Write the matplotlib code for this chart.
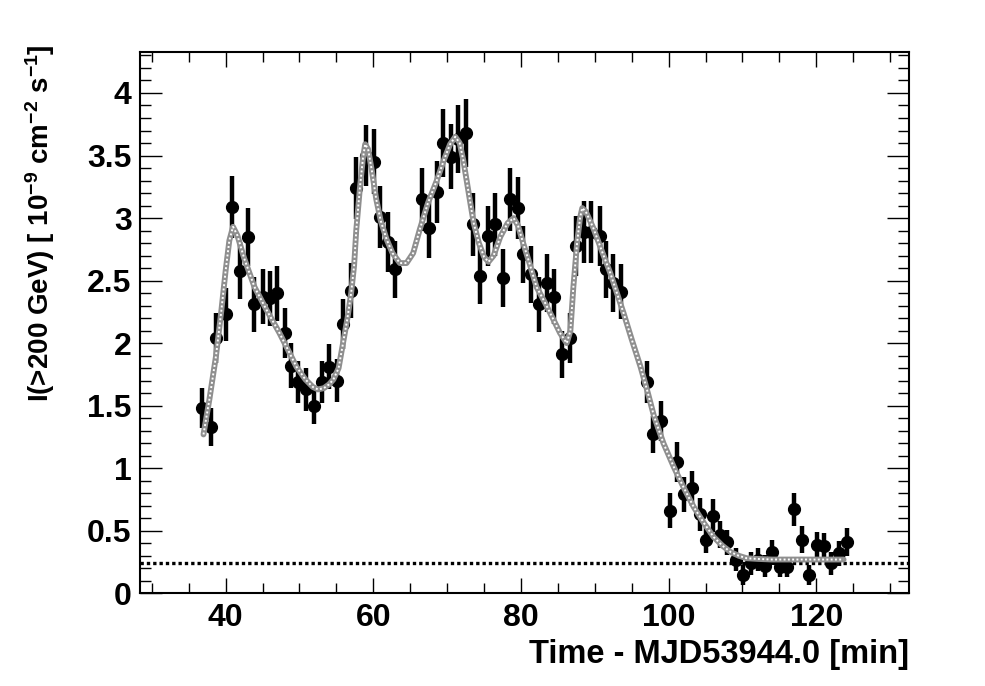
import matplotlib
matplotlib.use("Agg")
import matplotlib.pyplot as plt
from matplotlib.ticker import MultipleLocator, FixedLocator

plt.rcParams['font.family'] = ['Liberation Sans', 'DejaVu Sans']
plt.rcParams['font.weight'] = 'bold'
plt.rcParams['mathtext.fontset'] = 'custom'
plt.rcParams['mathtext.rm'] = 'Liberation Sans:bold'
plt.rcParams['mathtext.bf'] = 'Liberation Sans:bold'
plt.rcParams['mathtext.it'] = 'Liberation Sans:bold'

# ---- data ----
time_min = [36.8, 38.0, 38.7, 40.0, 40.9, 41.9, 43.0, 43.9, 45.0, 46.0,
            47.0, 48.0, 48.8, 49.8, 50.9, 52.0, 53.0, 54.0, 55.1, 55.9,
            57.0, 57.7, 59.0, 60.1, 60.9, 62.0, 62.9, 66.6, 67.6, 68.6,
            69.5, 70.5, 71.5, 72.6, 73.5, 74.5, 75.5, 76.5, 77.5, 78.5,
            79.6, 80.3, 81.4, 82.5, 83.5, 84.5, 85.5, 86.6, 87.4, 88.5,
            89.5, 90.7, 91.5, 92.5, 93.6, 97.1, 97.9, 99.0, 100.2, 101.2,
            102.1, 103.1, 104.2, 105.0, 106.0, 107.0, 107.9, 109.1, 110.1, 111.1,
            112.1, 113.1, 114.0, 115.1, 116.1, 117.0, 118.0, 119.0, 120.1, 121.0,
            122.0, 123.1, 124.1]
flux = [1.48, 1.33, 2.04, 2.23, 3.09, 2.58, 2.85, 2.31, 2.37, 2.36,
        2.40, 2.08, 1.82, 1.69, 1.63, 1.50, 1.69, 1.81, 1.70, 2.15,
        2.42, 3.24, 3.50, 3.45, 3.01, 2.81, 2.59, 3.15, 2.92, 3.21,
        3.60, 3.49, 3.63, 3.68, 2.95, 2.54, 2.86, 2.95, 2.52, 3.15,
        3.08, 2.71, 2.55, 2.31, 2.48, 2.37, 1.91, 2.04, 2.78, 2.89,
        2.89, 2.86, 2.59, 2.48, 2.41, 1.69, 1.27, 1.38, 0.66, 1.05,
        0.79, 0.84, 0.63, 0.43, 0.62, 0.47, 0.41, 0.27, 0.15, 0.24,
        0.27, 0.22, 0.33, 0.21, 0.21, 0.67, 0.43, 0.15, 0.39, 0.38,
        0.24, 0.32, 0.41]
flux_err = [0.16, 0.15, 0.20, 0.21, 0.25, 0.23, 0.23, 0.22, 0.22, 0.22,
            0.22, 0.20, 0.18, 0.17, 0.17, 0.15, 0.17, 0.18, 0.17, 0.20,
            0.22, 0.25, 0.24, 0.26, 0.25, 0.24, 0.23, 0.25, 0.24, 0.25,
            0.27, 0.26, 0.27, 0.27, 0.25, 0.23, 0.24, 0.25, 0.23, 0.25,
            0.25, 0.23, 0.23, 0.22, 0.23, 0.22, 0.19, 0.20, 0.24, 0.25,
            0.25, 0.24, 0.23, 0.23, 0.22, 0.17, 0.15, 0.16, 0.14, 0.16,
            0.14, 0.14, 0.13, 0.11, 0.13, 0.11, 0.10, 0.09, 0.08, 0.09,
            0.09, 0.09, 0.10, 0.08, 0.08, 0.13, 0.11, 0.08, 0.10, 0.10,
            0.09, 0.10, 0.11]

# model curve vertices
curve_t = [37.0, 37.8, 38.7, 39.4, 40.0, 40.5, 41.0, 41.6, 42.5, 43.9,
           45.5, 47.3, 48.5, 49.6, 50.8, 51.8, 52.5, 53.3, 54.0, 54.6,
           55.3, 55.9, 56.5, 57.0, 57.4, 57.7, 58.2, 58.6, 58.9, 59.3,
           59.8, 60.4, 61.0, 61.8, 62.6, 63.6, 64.5, 65.4, 66.3, 67.4,
           68.6, 69.6, 70.4, 71.1, 71.7, 72.2, 72.7, 73.2, 73.6, 74.3,
           75.0, 75.6, 76.3, 77.2, 78.2, 79.0, 79.6, 80.3, 81.2, 82.1,
           83.2, 84.3, 85.3, 86.2, 86.7, 87.1, 87.6, 88.0, 88.3, 88.8,
           89.8, 91.0, 92.1, 93.0, 93.9, 95.0, 96.2, 97.2, 98.0, 99.3,
           100.7, 102.0, 103.4, 104.8, 106.1, 107.3, 108.4, 109.5, 110.6, 112.0,
           114.0, 116.0, 118.0, 120.0, 122.0, 123.7]
curve_f = [1.27, 1.55, 1.90, 2.25, 2.58, 2.82, 2.93, 2.86, 2.68, 2.45,
           2.27, 2.08, 1.94, 1.81, 1.71, 1.65, 1.63, 1.64, 1.67, 1.71,
           1.80, 2.00, 2.20, 2.40, 2.62, 2.91, 3.25, 3.48, 3.59, 3.55,
           3.38, 3.15, 2.98, 2.83, 2.72, 2.64, 2.64, 2.72, 2.91, 3.12,
           3.30, 3.47, 3.59, 3.65, 3.60, 3.46, 3.28, 3.10, 2.96, 2.80,
           2.69, 2.65, 2.70, 2.85, 2.96, 3.00, 2.94, 2.80, 2.63, 2.45,
           2.33, 2.20, 2.08, 2.00, 2.10, 2.45, 2.80, 3.00, 3.08, 3.05,
           2.92, 2.73, 2.56, 2.40, 2.24, 2.03, 1.81, 1.60, 1.42, 1.20,
           1.01, 0.85, 0.69, 0.56, 0.45, 0.38, 0.33, 0.30, 0.28, 0.275,
           0.27, 0.27, 0.27, 0.27, 0.27, 0.27]

baseline_level = 0.245

x_range = (28.4, 132.6)
y_range = (0.0, 4.33)

# ---- figure ----
fig = plt.figure(figsize=(9.85, 6.86), dpi=100)
ax = fig.add_axes([140/985, 1 - 593.3/686, (909.3 - 140)/985, (593.3 - 51.7)/686])

ax.axhline(baseline_level, color='black', lw=2.4, linestyle=(0, (1.0, 0.9)), zorder=1)

ax.errorbar(time_min, flux, yerr=flux_err, fmt='o', color='black',
            markersize=8.5, elinewidth=3.2, capsize=0, zorder=3)

ax.plot(curve_t, curve_f, color='#8f8f8f', lw=4.2, solid_capstyle='round', zorder=4)
ax.plot(curve_t, curve_f, color='white', lw=1.4, linestyle=(0, (1, 1.2)), zorder=5)

ax.set_xlim(*x_range)
ax.set_ylim(*y_range)

ax.xaxis.set_major_locator(FixedLocator([40, 60, 80, 100, 120]))
ax.xaxis.set_minor_locator(MultipleLocator(5))
ax.yaxis.set_major_locator(MultipleLocator(0.5))
ax.yaxis.set_minor_locator(MultipleLocator(0.1))
ax.yaxis.set_major_formatter(plt.FuncFormatter(lambda v, p: ('%g' % v)))

ax.tick_params(axis='both', which='both', direction='in', top=True, right=True, width=1.0)
ax.tick_params(axis='x', which='major', length=11, labelsize=23, pad=7)
ax.tick_params(axis='x', which='minor', length=7)
ax.tick_params(axis='y', which='major', length=16, labelsize=23, pad=6)
ax.tick_params(axis='y', which='minor', length=8)
for lab in ax.get_xticklabels() + ax.get_yticklabels():
    lab.set_fontweight('bold')

for sp in ax.spines.values():
    sp.set_linewidth(1.5)

fig.text(909/985, 1 - 655/686, 'Time - MJD53944.0 [min]', ha='right', va='center',
         fontsize=23.5, fontweight='bold')
fig.text(40/985, 1 - 44/686,
         r'I(>200 GeV) [ 10$^{-9}$ cm$^{-2}$ s$^{-1}$]',
         rotation=90, ha='center', va='top', fontsize=20, fontweight='bold')

fig.savefig('out.png', dpi=100, facecolor='white')
